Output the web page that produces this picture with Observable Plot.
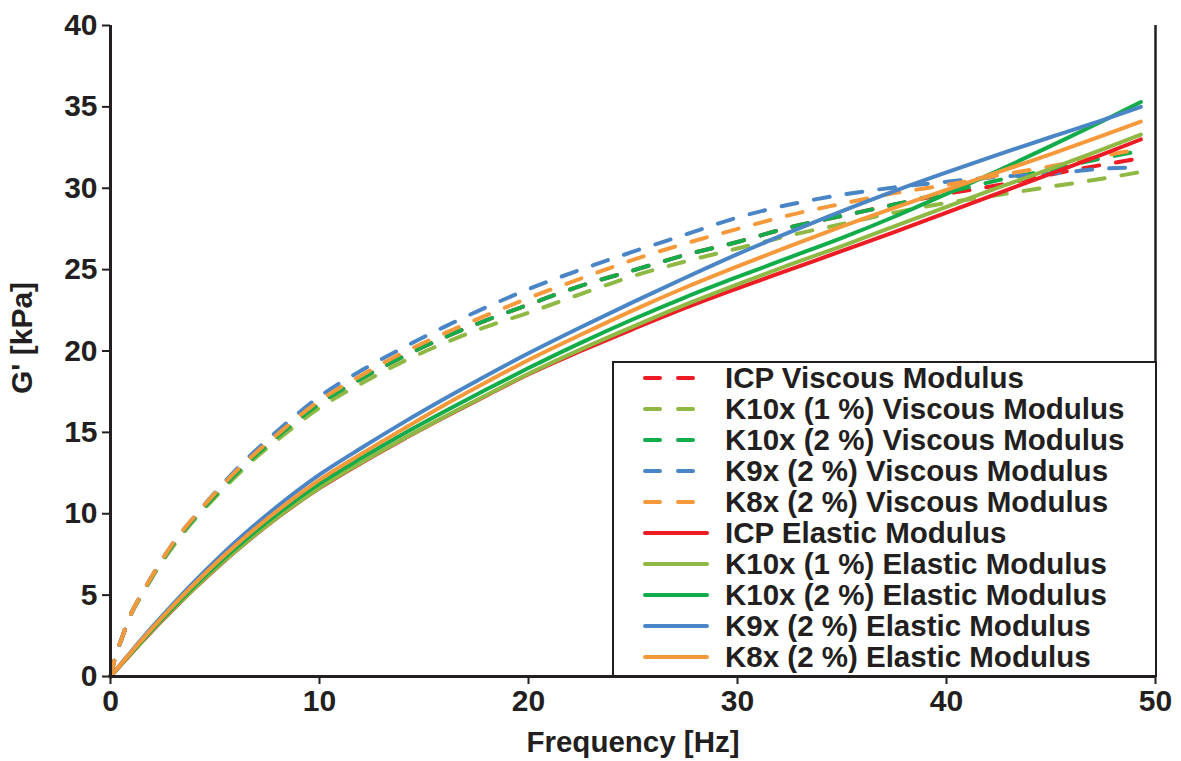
<!DOCTYPE html>
<html><head><meta charset="utf-8">
<script src="https://cdn.jsdelivr.net/npm/d3@7"></script>
<script src="https://cdn.jsdelivr.net/npm/@observablehq/plot@0.6"></script>
<style>
body{margin:0;background:#fff;}
#wrap{position:relative;width:1181px;height:761px;font-family:"Liberation Sans",Arial,sans-serif;color:#231f20;}
#legend{position:absolute;left:612px;top:361px;width:545px;height:316px;border:2px solid #231f20;background:#fff;box-sizing:border-box;}
.row{position:absolute;left:0;height:30px;display:flex;align-items:center;}
.row svg{display:block;}
.row span{font-weight:bold;font-size:29.5px;white-space:nowrap;margin-left:14px;}
</style></head>
<body><div id="wrap"></div>
<script>
// Frequencies [Hz]
const freq = [0, 0.25, 0.5, 1, 1.5, 2, 3, 4, 5, 6, 7, 8, 10, 12, 14, 16, 18, 20, 22.5, 25, 27.5, 30, 32.5, 35, 37.5, 40, 42.5, 45, 47.5, 49.3];

// Viscous modulus [kPa] (dashed)
const icpVisc   = [0, 1.3, 2.2, 3.9, 5.05, 6.15, 8.1, 9.7, 11.1, 12.45, 13.65, 14.75, 16.75, 18.3, 19.65, 20.85, 21.9, 22.85, 24.0, 24.95, 25.9, 26.7, 27.6, 28.3, 29.0, 29.65, 30.2, 30.85, 31.45, 31.85];
const k10x1Visc = [0, 1.3, 2.2, 3.85, 5.0, 6.1, 8.0, 9.6, 11.0, 12.3, 13.5, 14.55, 16.5, 18.0, 19.35, 20.5, 21.5, 22.35, 23.5, 24.6, 25.5, 26.3, 27.1, 27.8, 28.5, 29.1, 29.6, 30.1, 30.6, 31.0];
const k10x2Visc = [0, 1.3, 2.2, 3.9, 5.05, 6.15, 8.1, 9.7, 11.1, 12.45, 13.65, 14.75, 16.75, 18.3, 19.65, 20.85, 21.9, 22.85, 24.0, 24.95, 25.9, 26.7, 27.6, 28.3, 29.0, 29.75, 30.5, 31.15, 31.85, 32.3];
const k9xVisc   = [0, 1.3, 2.2, 3.9, 5.1, 6.2, 8.2, 9.8, 11.3, 12.7, 13.95, 15.1, 17.2, 18.8, 20.2, 21.5, 22.7, 23.8, 25.0, 26.1, 27.15, 28.2, 29.0, 29.6, 30.05, 30.4, 30.7, 30.9, 31.2, 31.3];
const k8xVisc   = [0, 1.3, 2.2, 3.9, 5.1, 6.2, 8.2, 9.8, 11.25, 12.6, 13.8, 14.9, 16.95, 18.5, 19.9, 21.1, 22.2, 23.25, 24.45, 25.6, 26.6, 27.5, 28.35, 29.05, 29.7, 30.2, 30.8, 31.35, 32.0, 32.4];

// Elastic modulus [kPa] (solid)
const icpElas   = [0, 0.36, 0.71, 1.42, 2.12, 2.81, 4.13, 5.39, 6.58, 7.71, 8.77, 9.77, 11.57, 13.12, 14.57, 15.94, 17.27, 18.57, 20.0, 21.35, 22.65, 23.85, 25.0, 26.15, 27.3, 28.5, 29.7, 30.9, 32.1, 33.0];
const k10x1Elas = [0, 0.36, 0.72, 1.43, 2.13, 2.83, 4.15, 5.41, 6.6, 7.73, 8.79, 9.79, 11.6, 13.15, 14.6, 15.97, 17.3, 18.6, 20.1, 21.5, 22.85, 24.1, 25.3, 26.45, 27.65, 28.85, 30.05, 31.2, 32.4, 33.3];
const k10x2Elas = [0, 0.37, 0.74, 1.47, 2.19, 2.9, 4.25, 5.54, 6.76, 7.91, 8.99, 10.0, 11.85, 13.42, 14.9, 16.3, 17.65, 18.95, 20.5, 21.95, 23.3, 24.55, 25.75, 26.95, 28.25, 29.65, 31.1, 32.6, 34.15, 35.3];
const k9xElas   = [0, 0.39, 0.78, 1.55, 2.31, 3.05, 4.47, 5.82, 7.09, 8.29, 9.41, 10.47, 12.4, 14.04, 15.6, 17.08, 18.5, 19.86, 21.46, 23.0, 24.5, 25.95, 27.3, 28.6, 29.83, 30.98, 32.08, 33.15, 34.2, 35.0];
const k8xElas   = [0, 0.38, 0.76, 1.51, 2.25, 2.97, 4.36, 5.67, 6.91, 8.08, 9.17, 10.2, 12.08, 13.68, 15.2, 16.7, 18.1, 19.45, 21.0, 22.5, 23.9, 25.2, 26.45, 27.65, 28.8, 29.9, 31.0, 32.1, 33.25, 34.1];

const seriesNames = [
  "ICP Viscous Modulus", "K10x (1 %) Viscous Modulus", "K10x (2 %) Viscous Modulus",
  "K9x (2 %) Viscous Modulus", "K8x (2 %) Viscous Modulus",
  "ICP Elastic Modulus", "K10x (1 %) Elastic Modulus", "K10x (2 %) Elastic Modulus",
  "K9x (2 %) Elastic Modulus", "K8x (2 %) Elastic Modulus"
];
const seriesValues = [icpVisc, k10x1Visc, k10x2Visc, k9xVisc, k8xVisc, icpElas, k10x1Elas, k10x2Elas, k9xElas, k8xElas];
const seriesColors = ["#ed1c24", "#8fb944", "#12ac4b", "#4a86c6", "#f6993b", "#ed1c24", "#8fb944", "#12ac4b", "#4a86c6", "#f6993b"];
const xTicks = [0, 10, 20, 30, 40, 50];
const yTicks = [0, 5, 10, 15, 20, 25, 30, 35, 40];

const rows = [];
seriesNames.forEach((name, i) => {
  seriesValues[i].forEach((v, j) => rows.push({name, f: freq[j], v, dashed: i < 5}));
});
const viscRows = rows.filter(d => d.dashed);
const elasRows = rows.filter(d => !d.dashed);

const ink = "#231f20";
const chart = Plot.plot({
  width: 1181, height: 761,
  marginLeft: 110, marginRight: 26, marginTop: 25, marginBottom: 85,
  x: {domain: [0, 50]},
  y: {domain: [0, 40]},
  color: {domain: seriesNames, range: seriesColors},
  style: {fontFamily: '"Liberation Sans", Arial, sans-serif', color: ink, background: "#fff"},
  marks: [
    Plot.line(viscRows, {x: "f", y: "v", z: "name", stroke: "name", strokeWidth: 4, strokeDasharray: "16,17", strokeLinecap: "round", curve: "monotone-x"}),
    Plot.line(elasRows, {x: "f", y: "v", z: "name", stroke: "name", strokeWidth: 4, strokeLinecap: "round", curve: "monotone-x"}),
    Plot.ruleX([0], {stroke: ink, strokeWidth: 3}),
    Plot.ruleX([50], {stroke: ink, strokeWidth: 2.5}),
    Plot.ruleY([0], {stroke: ink, strokeWidth: 3}),
    Plot.axisX({ticks: xTicks, tickSize: 8, tickPadding: 5, tickFormat: d => d, fontSize: 30, fontWeight: "bold", stroke: ink, strokeWidth: 2, label: null}),
    Plot.axisY({ticks: yTicks, tickSize: 8, tickPadding: 5, tickFormat: d => d, fontSize: 30, fontWeight: "bold", stroke: ink, strokeWidth: 2, label: null}),
    Plot.text(["Frequency [Hz]"], {frameAnchor: "bottom", dy: 66, text: d => d, fontSize: 29.5, fontWeight: "bold", fill: ink, lineAnchor: "middle", textAnchor: "middle"}),
    Plot.text(["G' [kPa]"], {frameAnchor: "left", dx: -88, dy: -13, rotate: -90, text: d => d, fontSize: 30, fontWeight: "bold", fill: ink, lineAnchor: "middle", textAnchor: "middle"})
  ]
});
const wrap = document.getElementById("wrap");
wrap.appendChild(chart);

// Legend
const legend = document.createElement("div");
legend.id = "legend";
wrap.appendChild(legend);
seriesNames.forEach((name, i) => {
  const row = document.createElement("div");
  row.className = "row";
  row.style.top = (378 + i * 31 - 15 - 363) + "px";
  row.style.left = (643 - 614) + "px";
  const svg = d3.create("svg").attr("width", 68).attr("height", 30);
  if (i < 5) {
    svg.append("line").attr("x1", 2).attr("x2", 17).attr("y1", 15).attr("y2", 15);
    svg.append("line").attr("x1", 35).attr("x2", 50).attr("y1", 15).attr("y2", 15);
  } else {
    svg.append("line").attr("x1", 2).attr("x2", 64).attr("y1", 15).attr("y2", 15);
  }
  svg.selectAll("line").attr("stroke", seriesColors[i]).attr("stroke-width", 4).attr("stroke-linecap", "round");
  row.appendChild(svg.node());
  const span = document.createElement("span");
  span.textContent = name;
  row.appendChild(span);
  legend.appendChild(row);
});
</script></body></html>
